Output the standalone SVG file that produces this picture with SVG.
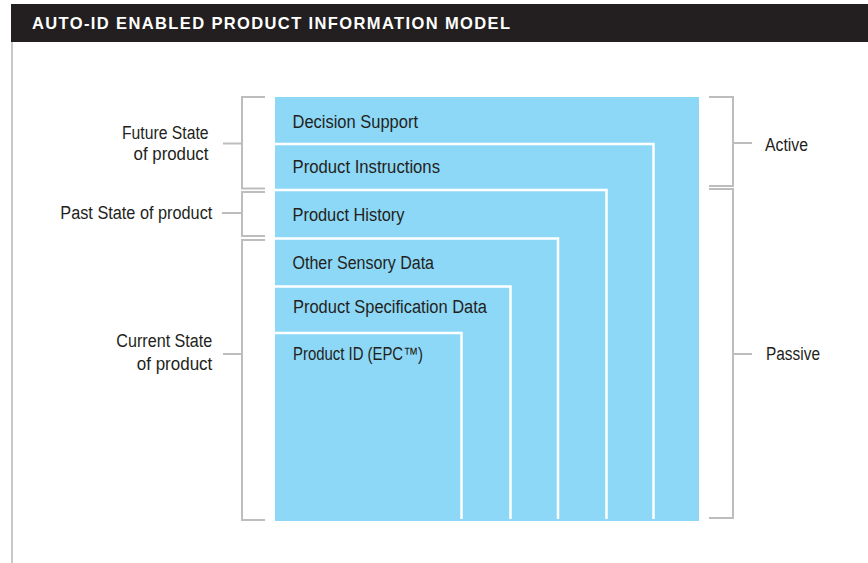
<svg xmlns="http://www.w3.org/2000/svg" width="868" height="563" viewBox="0 0 868 563">
  <style>
    .lbl { font-family: "Liberation Sans", Arial, sans-serif; font-size: 18px; fill: #231f20; }
    .end { text-anchor: end; }
    .title { font-family: "Liberation Sans", Arial, sans-serif; font-size: 16.5px; font-weight: bold; fill: #ffffff; }
    .sep { fill: none; stroke: #ffffff; stroke-width: 2.5; }
    .brk { fill: none; stroke: #bdbdbd; stroke-width: 2; }
  </style>

  <rect width="868" height="563" fill="#ffffff"/>

  <!-- header bar -->
  <g id="header">
    <rect x="11" y="4" width="857" height="38" fill="#231f20"/>
    <text class="title" x="32" y="28.5" textLength="478" lengthAdjust="spacing">AUTO-ID ENABLED PRODUCT INFORMATION MODEL</text>
    <line x1="12" y1="42" x2="12" y2="563" stroke="#c8c8c8" stroke-width="2"/>
  </g>

  <!-- nested information layers -->
  <g id="layers">
    <rect x="275" y="97" width="424" height="424" fill="#8dd8f7"/>
    <path class="sep" d="M275 144 H653.5 V519"/>
    <path class="sep" d="M275 190 H606.5 V519"/>
    <path class="sep" d="M275 238.5 H558 V519"/>
    <path class="sep" d="M275 286.5 H510.5 V519"/>
    <path class="sep" d="M275 333 H461.5 V519"/>
  </g>

  <g id="decision-support">
    <text class="lbl" x="292.5" y="128.3" textLength="125.5" lengthAdjust="spacingAndGlyphs">Decision Support</text>
  </g>
  <g id="product-instructions">
    <text class="lbl" x="292.5" y="173.3" textLength="147.5" lengthAdjust="spacingAndGlyphs">Product Instructions</text>
  </g>
  <g id="product-history">
    <text class="lbl" x="292.5" y="221" textLength="112" lengthAdjust="spacingAndGlyphs">Product History</text>
  </g>
  <g id="other-sensory-data">
    <text class="lbl" x="292.5" y="269" textLength="141.5" lengthAdjust="spacingAndGlyphs">Other Sensory Data</text>
  </g>
  <g id="product-specification-data">
    <text class="lbl" x="293" y="312.7" textLength="194" lengthAdjust="spacingAndGlyphs">Product Specification Data</text>
  </g>
  <g id="product-id">
    <text class="lbl" x="293" y="360.3" textLength="130" lengthAdjust="spacingAndGlyphs">Product ID (EPC™)</text>
  </g>

  <!-- state labels (left) -->
  <g id="future-state">
    <text class="lbl end" x="208.5" y="138.5" textLength="86.5" lengthAdjust="spacingAndGlyphs">Future State</text>
    <text class="lbl end" x="208.5" y="160" textLength="75" lengthAdjust="spacingAndGlyphs">of product</text>
  </g>
  <g id="past-state">
    <text class="lbl end" x="212.3" y="218.8" textLength="152" lengthAdjust="spacingAndGlyphs">Past State of product</text>
  </g>
  <g id="current-state">
    <text class="lbl end" x="212.3" y="346.7" textLength="96" lengthAdjust="spacingAndGlyphs">Current State</text>
    <text class="lbl end" x="212.3" y="370" textLength="75.5" lengthAdjust="spacingAndGlyphs">of product</text>
  </g>

  <!-- activity labels (right) -->
  <g id="active">
    <text class="lbl" x="765" y="151" textLength="43" lengthAdjust="spacingAndGlyphs">Active</text>
  </g>
  <g id="passive">
    <text class="lbl" x="766" y="359.5" textLength="54" lengthAdjust="spacingAndGlyphs">Passive</text>
  </g>

  <!-- brackets linking labels to layer ranges -->
  <g id="connectors">
    <path class="brk" d="M265 97 H242 V188.5 H265 M242 143.5 H223"/>
    <path class="brk" d="M265 192 H242 V236 H265 M242 213 H222"/>
    <path class="brk" d="M265 240 H242 V520 H265 M242 354 H223"/>
    <path class="brk" d="M709 97 H733 V186 H709 M733 143 H752"/>
    <path class="brk" d="M709 189 H733 V518 H709 M733 354 H752"/>
  </g>
</svg>
